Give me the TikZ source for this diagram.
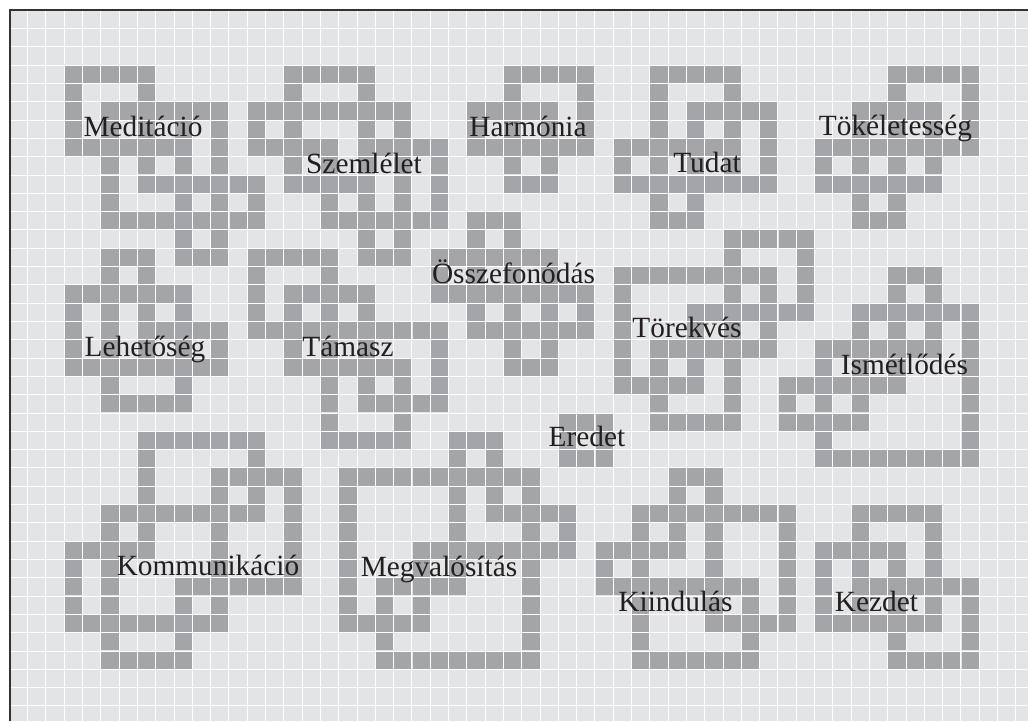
\documentclass[tikz,border=0pt]{standalone}
\usepackage{fontspec}
\setmainfont{Liberation Serif}
\definecolor{pale}{HTML}{E3E4E6}
\definecolor{darkcell}{HTML}{A4A5A8}
\definecolor{framec}{HTML}{333335}
\definecolor{inkc}{HTML}{231F20}
\tikzset{
  knotcell/.style={fill=darkcell,draw=none},
  gridline/.style={draw=white,line width=0.7pt},
  framel/.style={draw=framec,line width=1.5pt},
  word/.style={anchor=base,inner sep=0pt,text=inkc,font=\fontsize{22}{22}\selectfont},
}
\newcommand{\colx}[1]{(9.9+18.30*(#1))}
\newcommand{\rowy}[1]{(10.8+18.306*(#1))}
\begin{document}
\begin{tikzpicture}[x=0.75pt,y=-0.75pt]
\useasboundingbox (0,0) rectangle (1028,721);
\fill[white] (0,0) rectangle (1028,721);
\fill[pale] (9,10) rectangle (1028,721);
\foreach \k in {1,...,55} \draw[gridline] ({\colx{\k}-0.55},10) -- ({\colx{\k}-0.55},721);
\foreach \r in {1,...,38} \draw[gridline] (9,{\rowy{\r}-0.55}) -- (1028,{\rowy{\r}-0.55});
\draw[framel] (1028,10) -- (9.5,10) -- (9.5,721);
\foreach \r/\list in {
 3/{3,4,5,6,7,15,16,17,18,19,27,28,29,30,31,35,36,37,38,39,48,49,50,51,52},
 4/{3,7,15,19,27,31,35,39,48,52},
 5/{3,5,6,7,8,9,10,11,13,14,15,16,17,18,19,20,21,25,26,27,28,29,31,35,37,38,39,40,41,46,47,48,49,50,52},
 6/{3,5,7,9,11,13,15,19,21,25,27,29,31,35,37,39,41,46,48,50,52},
 7/{3,4,5,6,7,8,9,11,13,14,15,16,17,19,20,21,22,23,25,26,27,28,29,30,31,33,34,35,36,37,38,39,41,44,45,46,47,48,49,50,51,52},
 8/{5,7,9,11,15,17,19,21,23,27,29,33,35,37,39,41,44,46,48,50},
 9/{5,7,8,9,10,11,12,13,15,16,17,18,19,21,23,27,28,29,33,34,35,36,37,38,39,40,41,44,45,46,47,48,49,50},
 10/{5,9,11,13,17,19,21,23,35,37,46,48},
 11/{5,6,7,8,9,10,11,12,13,17,18,19,20,21,22,23,25,26,27,35,36,37,46,47,48},
 12/{9,11,19,21,25,27,39,40,41,42,43},
 13/{5,6,7,9,10,11,13,14,15,16,17,19,20,21,23,24,25,26,27,28,29,39,43},
 14/{5,7,13,17,23,25,27,29,33,34,35,36,37,38,39,40,41,43,48,49,50},
 15/{3,4,5,6,7,8,9,13,15,16,17,18,19,23,24,25,26,27,28,29,30,31,33,39,41,43,48,50},
 16/{3,5,7,9,13,15,17,19,25,27,29,31,33,37,38,39,40,41,42,43,46,47,48,49,50,51,52},
 17/{3,5,7,8,9,10,11,13,14,15,16,17,18,19,20,21,22,23,25,26,27,28,29,30,31,33,37,39,41,46,48,50,52},
 18/{3,5,7,9,11,15,17,19,23,27,29,33,35,36,37,38,39,40,41,44,45,46,47,48,49,50,52},
 19/{3,4,5,6,7,8,9,10,11,15,16,17,18,19,20,21,23,27,28,29,33,35,37,39,44,46,48,52},
 20/{5,9,17,19,21,23,33,34,35,36,37,39,42,43,44,45,46,47,48,52},
 21/{5,6,7,8,9,17,19,20,21,22,23,35,39,42,44,46,52},
 22/{17,21,30,31,32,35,36,37,38,39,42,43,44,45,46,52},
 23/{7,8,9,10,11,12,13,17,18,19,20,21,24,25,26,30,32,44,52},
 24/{7,13,24,26,30,31,32,44,45,46,47,48,49,50,51,52},
 25/{7,11,12,13,14,15,18,19,20,21,22,23,24,25,26,27,28,36,37,38},
 26/{7,11,13,15,18,24,26,28,36,38},
 27/{5,6,7,8,9,10,11,12,13,15,18,24,26,27,28,29,30,34,35,36,37,38,39,40,41,42,46,47,48,49,50},
 28/{5,7,11,15,18,24,28,30,34,36,38,42,46,50},
 29/{3,4,5,6,7,11,15,18,22,23,24,25,26,27,28,29,30,32,33,34,35,36,38,42,44,45,46,47,48,50},
 30/{3,5,11,15,18,22,24,28,32,34,38,42,44,46,48,50},
 31/{3,5,9,10,11,12,13,14,15,18,20,21,22,23,24,28,32,33,34,35,36,37,38,39,40,42,44,46,47,48,49,50,51,52},
 32/{3,5,9,11,18,20,22,28,34,38,40,42,44,46,48,50,52},
 33/{3,4,5,6,7,8,9,10,11,18,19,20,21,22,28,34,38,39,40,41,42,44,45,46,47,48,49,50,52},
 34/{5,9,20,28,34,40,48,52},
 35/{5,6,7,8,9,20,21,22,23,24,25,26,27,28,34,35,36,37,38,39,40,48,49,50,51,52}%
}{
  \foreach \k in \list
    \fill[knotcell] ({\colx{\k}},{\rowy{\r}}) rectangle ({\colx{\k}+17.2},{\rowy{\r}+17.2});
}
\node[word] (w1) at (143,136) {Meditáció};
\node[word] (w2) at (364,173) {Szemlélet};
\node[word] (w3) at (528,136.5) {Harmónia};
\node[word] (w4) at (707,172.7) {Tudat};
\node[word] (w5) at (895.5,135) {Tökéletesség};
\node[word] (w6) at (513.5,283) {Összefonódás};
\node[word] (w7) at (145,356) {Lehetőség};
\node[word] (w8) at (348,356) {Támasz};
\node[word] (w9) at (687,337) {Törekvés};
\node[word] (w10) at (904.5,374) {Ismétlődés};
\node[word] (w11) at (587,446) {Eredet};
\node[word] (w12) at (208,575) {Kommunikáció};
\node[word] (w13) at (439,576) {Megvalósítás};
\node[word] (w14) at (675.5,611) {Kiindulás};
\node[word] (w15) at (876.5,611) {Kezdet};
\end{tikzpicture}
\end{document}
